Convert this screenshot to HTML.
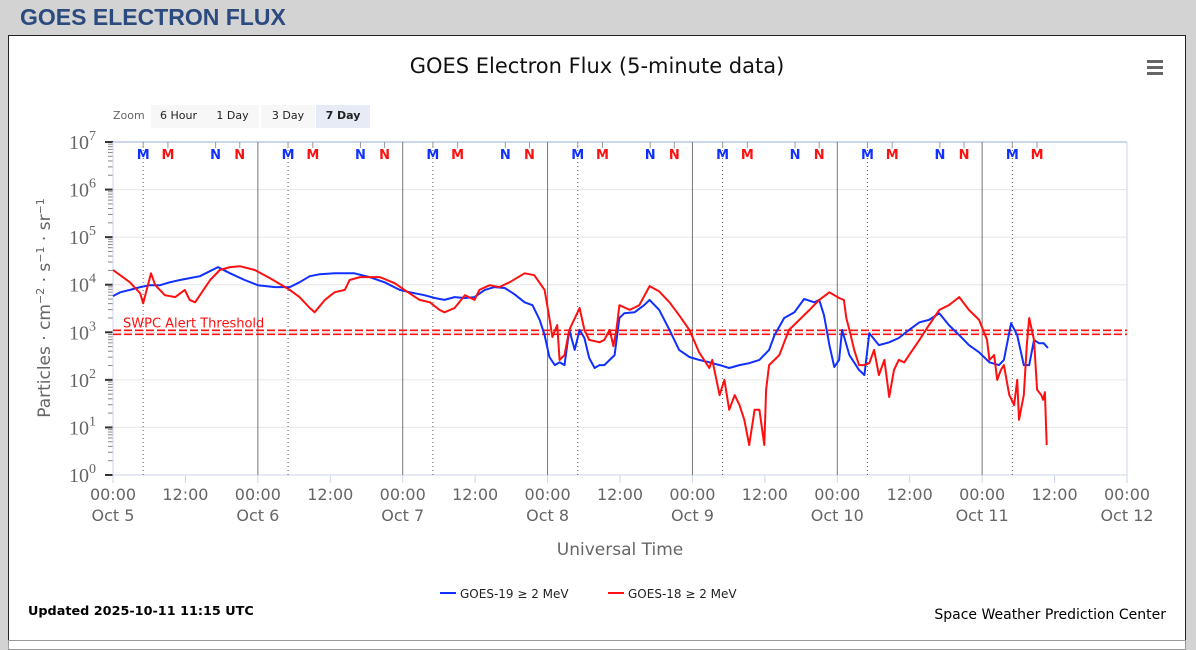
<!DOCTYPE html>
<html><head><meta charset="utf-8">
<style>
body{margin:0;width:1196px;height:646px;background:#d3d3d3;font-family:"Liberation Sans",sans-serif;overflow:hidden;position:relative}
#hdr{position:absolute;left:20px;top:4px;font-size:23px;font-weight:bold;color:#2b4a7e}
#box{position:absolute;left:8px;top:35px;width:1176px;height:604px;background:#fff;border:1px solid #222}
#bot{position:absolute;left:8px;top:640px;width:1176px;height:8px;background:#fff;border:1px solid #999}
svg{position:absolute;left:0;top:0}
</style></head><body>
<div id="hdr">GOES ELECTRON FLUX</div>
<div id="box"></div>
<div id="bot"></div>
<svg id="chart" width="1196" height="646" font-family="DejaVu Sans, sans-serif"></svg>
<script>
const dayLabels=["Oct 5","Oct 6","Oct 7","Oct 8","Oct 9","Oct 10","Oct 11","Oct 12"];
const yExponents=[0,1,2,3,4,5,6,7];
const alertThreshold=3;
const blueHours=[0,1.2,2.8,4.5,6.1,7.8,9.4,11.1,12.7,14.4,17.4,19.4,21.8,24,26.8,29.3,30.9,32.6,34.3,36.7,40,42.5,45,47.5,49.2,51.6,53.3,54.9,56.6,58.3,59.9,61.6,63.2,64.9,66.5,68.2,69.5,70.7,71.5,72.3,73.2,74,74.8,75.6,76.5,77.3,78.1,78.9,79.8,80.6,81.4,82.3,83.1,83.9,84.7,86.4,88,88.9,90.5,92.2,93.8,95.5,97.1,98.8,100.5,102.1,103.8,105.4,107.1,108.7,109.6,111.2,112.9,114.5,116.2,117,117.8,118.7,119.5,120.3,120.8,122,123.6,124.5,125.3,126.9,128.6,130.2,131.9,133.6,135.2,136.9,138.5,140.2,141.8,143.5,145.2,146.8,147.6,148.8,149.8,150.9,151.8,152.6,153.4,154.2,154.9];
const blueLogFlux=[3.76,3.84,3.89,3.95,3.99,3.99,4.05,4.10,4.14,4.18,4.37,4.24,4.10,3.99,3.95,3.95,4.05,4.18,4.22,4.24,4.24,4.16,4.05,3.89,3.84,3.78,3.72,3.68,3.74,3.72,3.74,3.89,3.95,3.93,3.80,3.63,3.57,3.26,2.94,2.48,2.31,2.37,2.31,3.05,2.63,3.05,2.88,2.46,2.25,2.31,2.31,2.42,2.52,3.30,3.40,3.42,3.57,3.68,3.47,3.05,2.63,2.48,2.42,2.37,2.31,2.25,2.31,2.35,2.42,2.63,2.94,3.30,3.42,3.70,3.63,3.68,3.36,2.73,2.27,2.42,3.05,2.52,2.21,2.10,2.98,2.73,2.79,2.88,3.05,3.21,3.26,3.40,3.15,2.94,2.73,2.58,2.37,2.31,2.42,3.19,2.94,2.31,2.31,2.84,2.77,2.77,2.67];
const redHours=[0,1.2,2.8,4.5,5,6.3,7,8.6,10.3,11.9,12.7,13.6,14.4,16.1,17.7,19.4,21,23.5,26,29.3,30.9,32.6,33.4,35.1,36.7,38.4,39.2,40.9,44.2,46.7,48.3,50.8,52.5,54.1,54.9,56.6,58.3,59.9,60.7,62.4,64,65.7,68.2,69.8,71.5,72.3,72.8,73.6,74,74.8,75.6,77.3,78.1,78.9,80.6,81.4,82.3,82.9,83.4,83.9,85.6,87.2,88.9,90.5,92.2,93.8,95.5,97.1,98.8,99.3,100.5,101.3,102.1,103,103.8,104.6,105.4,106.3,107.1,107.9,108.2,108.7,110.4,112,113.7,115.4,117,118.7,120.3,121.1,121.5,122,122.8,123.6,124.5,125.3,126.1,126.9,127.8,128.6,129.4,130.2,131.1,131.9,133.6,135.2,136.9,138.5,140.2,141.8,143.5,144.8,145.2,146,146.5,147.1,147.6,148.5,149.3,149.8,150.1,150.9,151.4,151.8,152.6,153.1,153.8,154.1,154.4,154.7];
const redLogFlux=[4.31,4.20,4.05,3.82,3.61,4.24,3.99,3.78,3.74,3.89,3.68,3.63,3.78,4.10,4.31,4.37,4.39,4.31,4.14,3.89,3.74,3.51,3.42,3.68,3.84,3.89,4.10,4.16,4.16,4.03,3.89,3.68,3.63,3.47,3.42,3.51,3.78,3.68,3.89,3.99,3.95,4.05,4.24,4.20,3.89,3.30,2.90,3.15,2.42,2.52,3.05,3.51,3.05,2.84,2.79,2.84,3.05,2.71,3.05,3.57,3.47,3.57,3.97,3.86,3.63,3.36,3.05,2.58,2.25,2.42,1.68,2.00,1.37,1.68,1.47,1.16,0.63,1.37,1.37,0.63,1.79,2.31,2.52,3.05,3.26,3.47,3.68,3.84,3.72,3.68,3.30,3.05,2.63,2.31,2.31,2.35,2.63,2.10,2.42,1.64,2.21,2.42,2.37,2.52,2.84,3.15,3.47,3.57,3.74,3.47,3.26,2.84,2.42,2.52,2.00,2.21,2.31,1.68,1.47,2.00,1.16,1.68,2.73,3.30,2.84,1.79,1.68,1.58,1.74,0.63];

const NS="http://www.w3.org/2000/svg";
const svg=document.getElementById('chart');
const X0=113,X1=1127,Y0=475,Y1=142;
const xs=h=>X0+(X1-X0)*h/168;
const ys=e=>Y0-(Y0-Y1)*e/7;
function mk(tag,at,parent){const el=document.createElementNS(NS,tag);for(const k in at)el.setAttribute(k,at[k]);(parent||svg).appendChild(el);return el;}

let t=mk('text',{x:597,y:73,'text-anchor':'middle','font-size':21,fill:'#111'});t.textContent='GOES Electron Flux (5-minute data)';


const menu=mk('g',{});


[61,67,73].forEach(y=>mk('rect',{x:1147,y:y-1,width:16,height:3,fill:'#666'},menu));
t=mk('text',{x:113,y:119,'font-size':11,fill:'#666'});t.textContent='Zoom';


[['6 Hour',151,55],['1 Day',206,53],['3 Day',261,54],['7 Day',316,54]].forEach((b,i)=>{
 const g=mk('g',{});
 
 
 mk('rect',{x:b[1],y:105,width:b[2],height:23,fill:i==3?'#e6ebf5':'#f7f7f7'},g);
 const tt=mk('text',{x:b[1]+b[2]/2,y:119,'text-anchor':'middle','font-size':11,fill:'#222','font-weight':i==3?'bold':'normal'},g);tt.textContent=b[0];
});
yExponents.forEach(e=>{
 const gl=mk('line',{x1:X0,x2:X1,y1:ys(e),y2:ys(e),stroke:'#e6e6e6'});
 
 
 const lab=mk('text',{x:96,y:ys(e)+7,'text-anchor':'end','font-size':20,fill:'#666','font-family':'Liberation Serif, serif'});
 
 
 lab.textContent='10';
 const sp=mk('tspan',{dy:-9,'font-size':14},lab);sp.textContent=e;
 mk('line',{x1:X0-8,x2:X0,y1:ys(e),y2:ys(e),stroke:'#333','stroke-width':2});
 if(e<7)for(let m=2;m<10;m++){const yy=ys(e+Math.log10(m));mk('line',{x1:X0-5,x2:X0,y1:yy,y2:yy,stroke:'#888'});}
});
mk('line',{x1:X0,x2:X1,y1:Y1,y2:Y1,stroke:'#ccd6eb','stroke-width':2});
mk('line',{x1:X1,x2:X1,y1:Y1,y2:Y0,stroke:'#ccd6eb'});
mk('line',{x1:X0,x2:X0,y1:Y1,y2:Y0,stroke:'#ccd6eb'});
mk('line',{x1:X0,x2:X1,y1:Y0,y2:Y0,stroke:'#ccd6eb'});
for(let d=0;d<8;d++){
 const x=xs(d*24);
 if(d>0&&d<7){const l=mk('line',{x1:x,x2:x,y1:Y1,y2:Y0,stroke:'#777'});
  
  }
 for(let k=0;k<(d<7?2:1);k++){
  const lab=mk('text',{x:xs(d*24+k*12),y:500,'text-anchor':'middle','font-size':16,fill:'#666'});lab.textContent=k?'12:00':'00:00';
  
  
  mk('line',{x1:xs(d*24+k*12),x2:xs(d*24+k*12),y1:Y0,y2:Y0+8,stroke:'#ccd6eb'});
 }
 const dl=mk('text',{x:x,y:521,'text-anchor':'middle','font-size':16,fill:'#666'});dl.textContent=dayLabels[d];
 
 
 if(d<7){
  const dx=xs(d*24+5);
  const dt=mk('line',{x1:dx,x2:dx,y1:Y1,y2:Y0,stroke:'#555','stroke-dasharray':'1,3'});
  
  
  const marks=[['M',5,'#1030ff'],['M',9.1,'#ff1010'],['N',17,'#1030ff'],['N',21,'#ff1010']];
  marks.slice(0,d==6?2:4).forEach(m=>{
   const mx=xs(d*24+m[1]);
   mk('line',{x1:mx,x2:mx,y1:Y1,y2:Y1+6,stroke:'#999'});
   const mt=mk('text',{x:mx,y:159,'text-anchor':'middle','font-size':13,'font-weight':'bold',fill:m[2]});mt.textContent=m[0];
   
   
  });
 }
}
const ty=ys(alertThreshold);
[-2,2].forEach(o=>{const l=mk('line',{x1:X0,x2:X1,y1:ty+o,y2:ty+o,stroke:'#ff1010','stroke-width':1.6,'stroke-dasharray':'8,3'});
 
 });
t=mk('text',{x:123,y:ty-5,'font-size':13,fill:'#ff1010'});t.textContent='SWPC Alert Threshold';


function series(hours,vals,color,name){
 const p=mk('path',{d:hours.map((h,i)=>(i?'L':'M')+xs(h).toFixed(1)+','+ys(vals[i]).toFixed(1)).join(''),fill:'none',stroke:color,'stroke-width':2,'stroke-linejoin':'round'});
 
 
}
series(blueHours,blueLogFlux,'#1030ff','goes19-series');
series(redHours,redLogFlux,'#ff1010','goes18-series');
t=mk('text',{x:0,y:0,transform:'translate(50,308) rotate(-90)','text-anchor':'middle','font-size':17,fill:'#666'});


t.innerHTML='Particles · cm<tspan dy="-6" font-size="11">−2</tspan><tspan dy="6"> · s</tspan><tspan dy="-6" font-size="11">−1</tspan><tspan dy="6"> · sr</tspan><tspan dy="-6" font-size="11">−1</tspan>';
t=mk('text',{x:620,y:555,'text-anchor':'middle','font-size':17,fill:'#666'});t.textContent='Universal Time';


[['GOES-19 ≥ 2 MeV','#1030ff',440,'legend-goes19'],['GOES-18 ≥ 2 MeV','#ff1010',608,'legend-goes18']].forEach(l=>{
 const g=mk('g',{});
 
 
 mk('line',{x1:l[2],x2:l[2]+16,y1:593,y2:593,stroke:l[1],'stroke-width':2},g);
 const tt=mk('text',{x:l[2]+20,y:598,'font-size':12,fill:'#222'},g);tt.textContent=l[0];
});
t=mk('text',{x:28,y:615,'font-size':12.8,'font-weight':'bold',fill:'#000'});t.textContent='Updated 2025-10-11 11:15 UTC';


t=mk('text',{x:1166,y:619,'text-anchor':'end','font-size':14,fill:'#000'});t.textContent='Space Weather Prediction Center';


</script>
</body></html>
